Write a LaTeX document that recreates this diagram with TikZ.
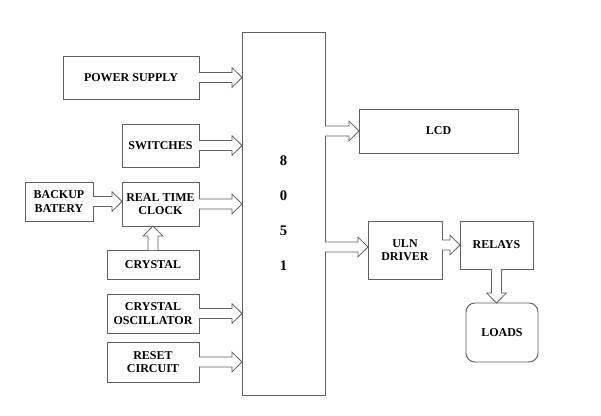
\documentclass[tikz,border=0pt]{standalone}
\usepackage{fontspec}
\setmainfont{Liberation Serif}
\usetikzlibrary{calc}

\definecolor{linegray}{RGB}{95,95,95}

% hollow block arrow from #1 to #2
\newcommand{\fatarrow}[2]{%
  \draw[fat arrow] let \p1=(#1), \p2=(#2),
    \n1={veclen(\x2-\x1,\y2-\y1)}, \n2={atan2(\y2-\y1,\x2-\x1)} in
    [shift={(\p1)}, rotate=\n2]
    (0pt,3.7pt) -- (\n1-7.5pt,3.7pt) -- (\n1-7.5pt,7.4pt) -- (\n1,0pt)
    -- (\n1-7.5pt,-7.4pt) -- (\n1-7.5pt,-3.7pt) -- (0pt,-3.7pt);
}

\begin{document}
\begin{tikzpicture}[x=0.75pt,y=-0.75pt,
  block/.style={draw=linegray, line width=0.7pt, fill=white, inner sep=0pt, outer sep=0pt,
    align=center, font=\fontsize{9}{10}\selectfont\bfseries},
  fat arrow/.style={draw=linegray, line width=0.6pt, fill=white, line join=miter}]

\useasboundingbox (0,0) rectangle (601,415);

\node[block, minimum width=62.25pt, minimum height=272.25pt,
  font=\fontsize{11}{26.25}\selectfont\bfseries] (mcu) at (283.5,213.5) {8\\0\\5\\1};

\node[block, minimum width=102pt, minimum height=32.25pt] (power) at (131,77.5) {POWER SUPPLY};
\node[block, minimum width=57.75pt, minimum height=32.25pt] (switch) at (160.5,145.5) {SWITCHES};
\node[block, minimum width=51pt, minimum height=29.25pt] (backup) at (59,201.5) {BACKUP\\BATERY};
\node[block, minimum width=57.75pt, minimum height=33pt] (rtc) at (160.5,204) {REAL TIME\\CLOCK};
\node[block, minimum width=69pt, minimum height=21.75pt] (crystal) at (153,264.5) {CRYSTAL};
\node[block, minimum width=69pt, minimum height=29.25pt] (osc) at (153,313.5) {CRYSTAL\\OSCILLATOR};
\node[block, minimum width=69pt, minimum height=30pt] (reset) at (153,362) {RESET\\CIRCUIT};

\node[block, minimum width=119.25pt, minimum height=33pt] (lcd) at (438.5,131) {LCD};
\node[block, minimum width=55.5pt, minimum height=43.5pt] (uln) at (405,250) {ULN\\DRIVER};
\node[block, minimum width=54.75pt, minimum height=36pt] (relay) at (496.5,245) {RELAYS};
\node[block, minimum width=54pt, minimum height=44.25pt, rounded corners=6.75pt] (load) at (502,332.5) {LOADS};

\coordinate (mcuU) at (mcu.east |- 0,247);

\fatarrow{power.east}{power.east -| mcu.west}
\fatarrow{switch.east}{switch.east -| mcu.west}
\fatarrow{backup.east}{backup.east -| rtc.west}
\fatarrow{rtc.east}{rtc.east -| mcu.west}
\fatarrow{crystal.north}{crystal.north |- rtc.south}
\fatarrow{osc.east}{osc.east -| mcu.west}
\fatarrow{reset.east}{reset.east -| mcu.west}
\fatarrow{lcd.west -| mcu.east}{lcd.west}
\fatarrow{mcuU}{mcuU -| uln.west}
\fatarrow{uln.east |- relay.west}{relay.west}
\fatarrow{relay.south}{relay.south |- load.north}

\end{tikzpicture}
\end{document}
